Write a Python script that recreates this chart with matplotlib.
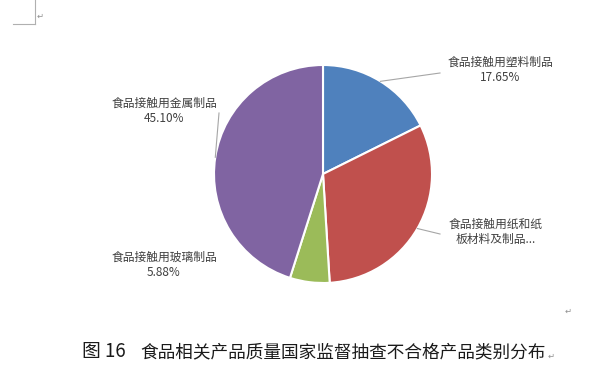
import numpy as np
import matplotlib
matplotlib.use("Agg")
import matplotlib.pyplot as plt

plt.rcParams['font.family'] = ['Noto Sans CJK SC', 'DejaVu Sans']

# ==== DATI ====
categories = ["食品接触用塑料制品", "食品接触用纸和纸\n板材料及制品...", "食品接触用玻璃制品", "食品接触用金属制品"]
shares = [17.65, 31.37, 5.88, 45.10]
pct_labels = ["17.65%", None, "5.88%", "45.10%"]
colors = ["#4F81BD", "#C0504D", "#9BBB59", "#8064A2"]
caption_num = "图 16"
caption = "食品相关产品质量国家监督抽查不合格产品类别分布"

W, H = 600, 386
cx, cy, r = 323, H - 174, 109

fig = plt.figure(figsize=(W / 100, H / 100), dpi=100)
ax = fig.add_axes([0, 0, 1, 1])

wedges, _ = ax.pie(shares, colors=colors, startangle=90, counterclock=False,
                   center=(cx, cy), radius=r,
                   wedgeprops=dict(edgecolor="white", linewidth=1.5))
ax.set_xlim(0, W)
ax.set_ylim(0, H)
ax.axis("off")

# posizioni etichette (pixel, origine in alto a sinistra)
label_pos = [(500, 70), (496, 232), (164, 265), (164, 111)]
leader_end = [(440, 73), (440, 234), None, (219, 113)]

for i, w in enumerate(wedges):
    mid = np.deg2rad((w.theta1 + w.theta2) / 2)
    ex, ey = cx + r * np.cos(mid), cy + r * np.sin(mid)
    if leader_end[i] is not None:
        lx, ly = leader_end[i]
        ax.plot([ex, lx], [ey, H - ly], color="#a6a6a6", lw=0.8)
    txt = categories[i] if pct_labels[i] is None else categories[i] + "\n" + pct_labels[i]
    px, py = label_pos[i]
    ax.text(px, H - py, txt, ha="center", va="center", fontsize=8.5,
            color="#404040", linespacing=1.15)

# didascalia
ax.text(82, H - 352, caption_num, ha="left", va="center", fontsize=13.5, color="#1a1a1a")
ax.text(140, H - 352, caption, ha="left", va="center", fontsize=12.7, color="#1a1a1a")
ax.text(548, H - 356, "↵", ha="left", va="center", fontsize=6, color="#909090",
        family=["DejaVu Sans"])
ax.text(565, H - 311, "↵", ha="left", va="center", fontsize=6, color="#909090",
        family=["DejaVu Sans"])

# segni di margine del documento
ax.plot([35, 35], [H, H - 24], color="#b0b0b0", lw=0.8)
ax.plot([13, 35], [H - 24, H - 24], color="#b0b0b0", lw=0.8)
ax.text(37, H - 16, "↵", ha="left", va="center", fontsize=6, color="#909090",
        family=["DejaVu Sans"])

fig.savefig("out.png", dpi=100, facecolor="white")
